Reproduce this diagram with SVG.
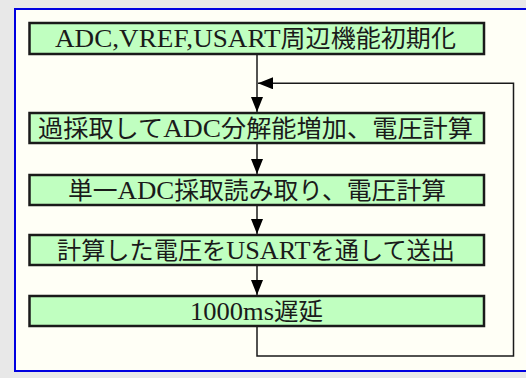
<svg xmlns="http://www.w3.org/2000/svg" width="526" height="378" viewBox="0 0 526 378">
<style>
.node rect{fill:#c0ffc0;stroke:#1a1a1a;stroke-width:2.5}
.node text{font-family:"Liberation Serif","Noto Sans CJK JP",serif;font-size:24px;fill:#1a1a1a;text-anchor:middle;font-weight:normal}
.lat{font-size:26px}
.conn{fill:none;stroke:#1a1a1a;stroke-width:1.5}
</style>
<defs>
<marker id="ah" viewBox="0 0 15 12" refX="15" refY="6" markerWidth="15" markerHeight="12" markerUnits="userSpaceOnUse" orient="auto">
<path d="M0,0 L15,6 L0,12 Z" fill="#000"/>
</marker>
</defs>
<rect x="0" y="0" width="526" height="378" fill="#e8e8e8"/>
<rect x="15" y="9" width="520" height="362" fill="#fffff6" stroke="#0000e0" stroke-width="2"/>
<g id="connectors">
<path class="conn" d="M257,55 V112" marker-end="url(#ah)"/>
<path class="conn" d="M257,144 V174" marker-end="url(#ah)"/>
<path class="conn" d="M257,206 V234" marker-end="url(#ah)"/>
<path class="conn" d="M257,266 V295" marker-end="url(#ah)"/>
<path class="conn" d="M257,327 V356 H513.5 V83.3 H258" marker-end="url(#ah)"/>
</g>
<g id="n1" class="node"><rect x="29.5" y="23" width="454.5" height="31"/><text x="255.5" y="47" textLength="401" lengthAdjust="spacingAndGlyphs"><tspan class="lat">ADC,VREF,USART</tspan>周辺機能初期化</text></g>
<g id="n2" class="node"><rect x="29.5" y="113" width="454.5" height="30"/><text x="255.5" y="137" textLength="435" lengthAdjust="spacingAndGlyphs">過採取して<tspan class="lat">ADC</tspan>分解能増加、電圧計算</text></g>
<g id="n3" class="node"><rect x="29.5" y="175" width="454.5" height="30"/><text x="257" y="199" textLength="378" lengthAdjust="spacingAndGlyphs">単一<tspan class="lat">ADC</tspan>採取読み取り、電圧計算</text></g>
<g id="n4" class="node"><rect x="29.5" y="235" width="454.5" height="30"/><text x="256" y="259" textLength="398" lengthAdjust="spacingAndGlyphs">計算した電圧を<tspan class="lat">USART</tspan>を通して送出</text></g>
<g id="n5" class="node"><rect x="29.5" y="296" width="454.5" height="30"/><text x="256.5" y="320" textLength="133" lengthAdjust="spacingAndGlyphs"><tspan class="lat">1000ms</tspan>遅延</text></g>
</svg>
